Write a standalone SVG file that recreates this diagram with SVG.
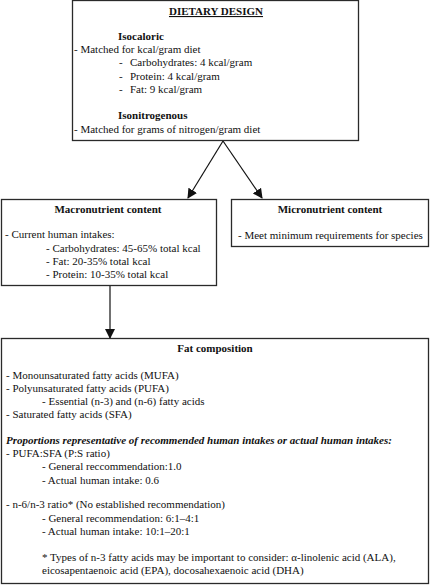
<svg xmlns="http://www.w3.org/2000/svg" width="431" height="586" viewBox="0 0 431 586">
<style>
text{font-family:"Liberation Serif","Times New Roman",serif;font-size:11px;fill:#111}
.b{font-weight:bold}
.c{text-anchor:middle}
.box{fill:#fff;stroke:#2a2a2a;stroke-width:1.3}
.ln{stroke:#111;stroke-width:1.2;fill:none}
</style>
<defs>
<marker id="ah" markerWidth="10" markerHeight="10" refX="9" refY="5" orient="auto" markerUnits="userSpaceOnUse" viewBox="0 0 10 10">
<path d="M0,0 L10,5 L0,10 z" fill="#111"/>
</marker>
</defs>
<rect width="431" height="586" fill="#fff"/>
<g id="connectors">
<line class="ln" x1="223" y1="141" x2="188" y2="198" marker-end="url(#ah)"/>
<line class="ln" x1="223" y1="141" x2="262" y2="198" marker-end="url(#ah)"/>
<line class="ln" x1="110" y1="285" x2="110" y2="338" marker-end="url(#ah)"/>
</g>
<g id="dietary-design">
<rect class="box" x="72.5" y="0.5" width="286" height="140"/>
<text class="b c" x="216" y="15" text-decoration="underline">DIETARY DESIGN</text>
<text class="b" x="118" y="40">Isocaloric</text>
<text x="74" y="53">- Matched for kcal/gram diet</text>
<text x="119" y="66">-</text><text x="130" y="66">Carbohydrates: 4 kcal/gram</text>
<text x="119" y="80">-</text><text x="130" y="80">Protein: 4 kcal/gram</text>
<text x="119" y="93">-</text><text x="130" y="93">Fat: 9 kcal/gram</text>
<text class="b" x="118" y="119">Isonitrogenous</text>
<text x="74" y="133">- Matched for grams of nitrogen/gram diet</text>
</g>
<g id="macronutrient">
<rect class="box" x="1.5" y="199.5" width="215" height="86"/>
<text class="b c" x="108" y="213">Macronutrient content</text>
<text x="5" y="238">- Current human intakes:</text>
<text x="46" y="252">- Carbohydrates: 45-65% total kcal</text>
<text x="46" y="265">- Fat: 20-35% total kcal</text>
<text x="46" y="278">- Protein: 10-35% total kcal</text>
</g>
<g id="micronutrient">
<rect class="box" x="231.5" y="199.5" width="197" height="47"/>
<text class="b c" x="330" y="213">Micronutrient content</text>
<text x="238" y="239">- Meet minimum requirements for species</text>
</g>
<g id="fat-composition">
<rect class="box" x="1.5" y="338.5" width="427" height="245"/>
<text class="b c" x="215" y="352">Fat composition</text>
<text x="6" y="379">- Monounsaturated fatty acids (MUFA)</text>
<text x="6" y="392">- Polyunsaturated fatty acids (PUFA)</text>
<text x="42" y="405">- Essential (n-3) and (n-6) fatty acids</text>
<text x="6" y="418">- Saturated fatty acids (SFA)</text>
<text class="b" x="6" y="444" font-style="italic">Proportions representative of recommended human intakes or actual human intakes:</text>
<text x="6" y="457">- PUFA:SFA (P:S ratio)</text>
<text x="42" y="470">- General reccommendation:1.0</text>
<text x="42" y="484">- Actual human intake: 0.6</text>
<text x="6" y="508">- n-6/n-3 ratio* (No established recommendation)</text>
<text x="42" y="522">- General recommendation: 6:1–4:1</text>
<text x="42" y="535">- Actual human intake: 10:1–20:1</text>
<text x="42" y="561">* Types of n-3 fatty acids may be important to consider: α-linolenic acid (ALA),</text>
<text x="42" y="574">eicosapentaenoic acid (EPA), docosahexaenoic acid (DHA)</text>
</g>
</svg>
